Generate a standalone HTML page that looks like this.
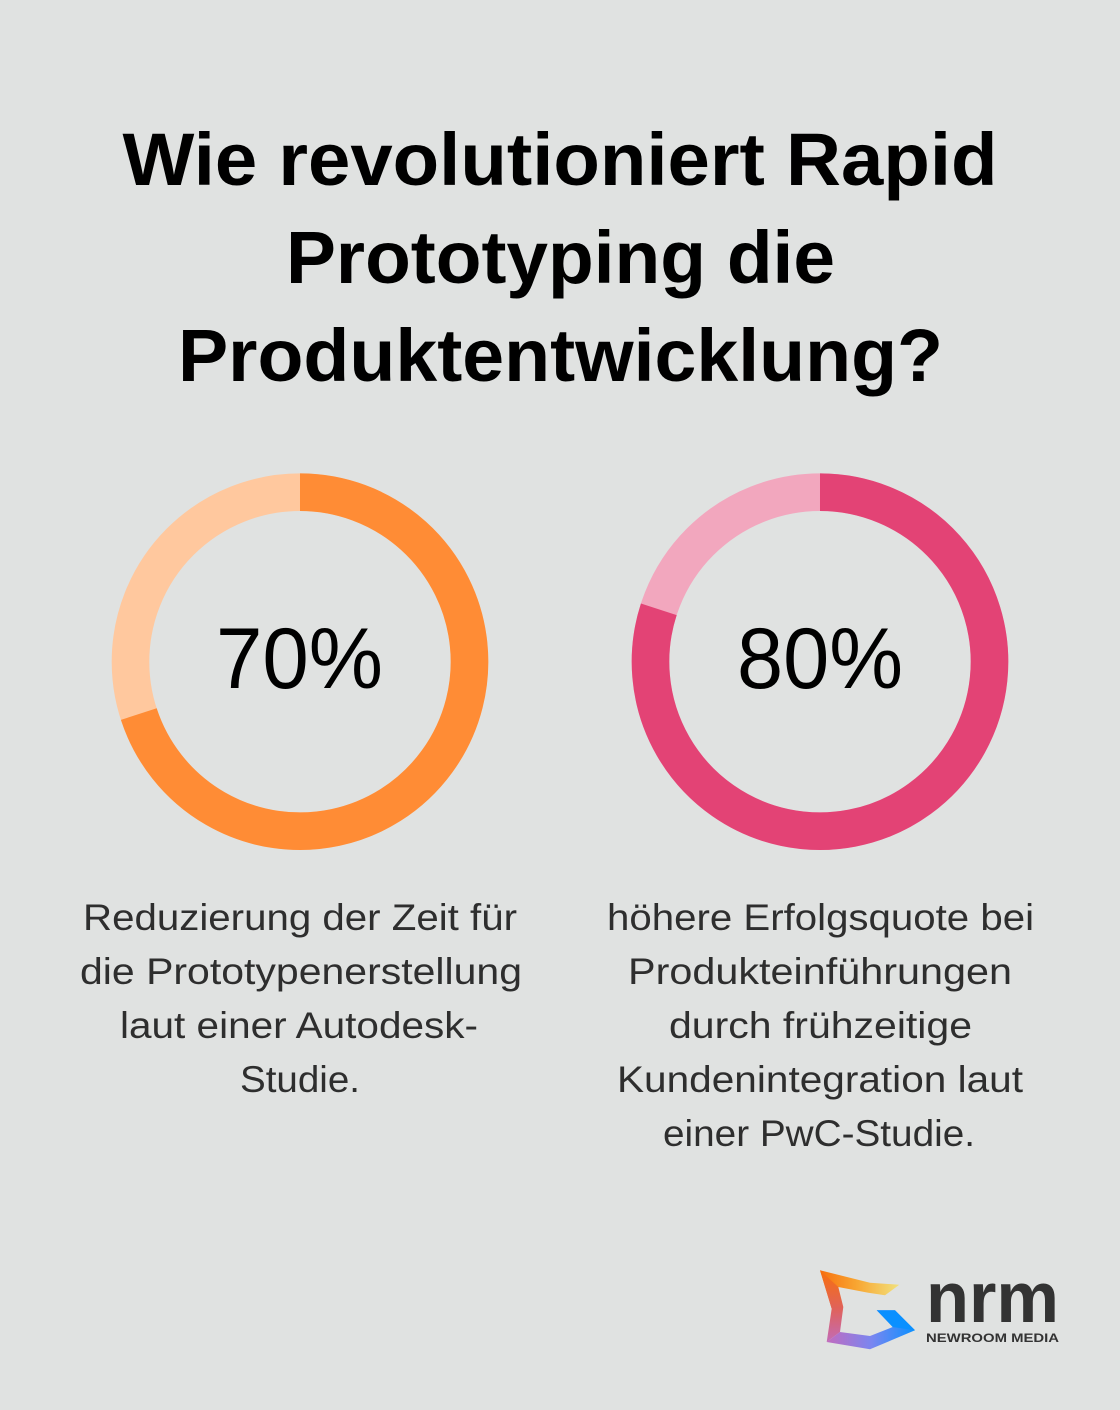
<!DOCTYPE html>
<html>
<head>
<meta charset="utf-8">
<style>
html,body{margin:0;padding:0;background:#e0e2e1;}
svg{display:block;}
.t{font-family:"Liberation Sans",sans-serif;font-weight:700;font-size:74px;fill:#000;}
.p{font-family:"Liberation Sans",sans-serif;font-weight:400;font-size:86px;fill:#000;}
.b{font-family:"Liberation Sans",sans-serif;font-weight:400;font-size:37px;fill:#2e2e2e;}
</style>
</head>
<body>
<svg width="1120" height="1410" viewBox="0 0 1120 1410" xmlns="http://www.w3.org/2000/svg">
<defs>
  <linearGradient id="gTop" x1="820" y1="0" x2="900" y2="0" gradientUnits="userSpaceOnUse">
    <stop offset="0" stop-color="#f7700f"/>
    <stop offset="0.45" stop-color="#f8a531"/>
    <stop offset="1" stop-color="#f1e27e"/>
  </linearGradient>
  <linearGradient id="gLeft" x1="0" y1="1272" x2="0" y2="1345" gradientUnits="userSpaceOnUse">
    <stop offset="0" stop-color="#f7700f"/>
    <stop offset="0.5" stop-color="#e0625a"/>
    <stop offset="1" stop-color="#c06cc0"/>
  </linearGradient>
  <linearGradient id="gBot" x1="828" y1="0" x2="915" y2="0" gradientUnits="userSpaceOnUse">
    <stop offset="0" stop-color="#c06cc0"/>
    <stop offset="0.5" stop-color="#7a86f0"/>
    <stop offset="1" stop-color="#0a90ff"/>
  </linearGradient>
</defs>
<rect width="1120" height="1410" fill="#e0e2e1"/>

<!-- Title -->
<text class="t" x="560" y="185" text-anchor="middle" textLength="875" lengthAdjust="spacingAndGlyphs">Wie revolutioniert Rapid</text>
<text class="t" x="560.5" y="283" text-anchor="middle" textLength="549" lengthAdjust="spacingAndGlyphs">Prototyping die</text>
<text class="t" x="560.5" y="381" text-anchor="middle" textLength="765" lengthAdjust="spacingAndGlyphs">Produktentwicklung?</text>

<!-- Donut 1 -->
<circle cx="300" cy="661.7" r="169.5" fill="none" stroke="#ffc89e" stroke-width="37.6"/>
<path d="M300 492.2 A169.5 169.5 0 1 1 138.8 714.1" fill="none" stroke="#ff8c35" stroke-width="37.6"/>
<text class="p" x="299.5" y="688" text-anchor="middle" textLength="167" lengthAdjust="spacingAndGlyphs">70%</text>

<!-- Donut 2 -->
<circle cx="820" cy="661.7" r="169.5" fill="none" stroke="#f2a7be" stroke-width="37.6"/>
<path d="M820 492.2 A169.5 169.5 0 1 1 658.8 609.3" fill="none" stroke="#e34375" stroke-width="37.6"/>
<text class="p" x="820" y="688" text-anchor="middle" textLength="166" lengthAdjust="spacingAndGlyphs">80%</text>

<!-- Left text -->
<text class="b" x="300" y="930" text-anchor="middle" textLength="434" lengthAdjust="spacingAndGlyphs">Reduzierung der Zeit für</text>
<text class="b" x="301" y="984" text-anchor="middle" textLength="442" lengthAdjust="spacingAndGlyphs">die Prototypenerstellung</text>
<text class="b" x="299" y="1038" text-anchor="middle" textLength="358" lengthAdjust="spacingAndGlyphs">laut einer Autodesk-</text>
<text class="b" x="300" y="1092" text-anchor="middle" textLength="120" lengthAdjust="spacingAndGlyphs">Studie.</text>

<!-- Right text -->
<text class="b" x="820.5" y="930" text-anchor="middle" textLength="427" lengthAdjust="spacingAndGlyphs">höhere Erfolgsquote bei</text>
<text class="b" x="820" y="984" text-anchor="middle" textLength="384" lengthAdjust="spacingAndGlyphs">Produkteinführungen</text>
<text class="b" x="820.5" y="1038" text-anchor="middle" textLength="303" lengthAdjust="spacingAndGlyphs">durch frühzeitige</text>
<text class="b" x="820" y="1092" text-anchor="middle" textLength="406" lengthAdjust="spacingAndGlyphs">Kundenintegration laut</text>
<text class="b" x="819" y="1146" text-anchor="middle" textLength="312" lengthAdjust="spacingAndGlyphs">einer PwC-Studie.</text>

<!-- Logo -->
<polygon points="820,1270.3 870,1282.7 899.3,1284.7 885,1295.3 868.3,1292.7 838.3,1287 831.7,1308.7 820,1270.3" fill="url(#gTop)"/>
<polygon points="820,1270.3 838.3,1287 843.3,1307 840,1332 826.7,1342 831.7,1308.7" fill="url(#gLeft)"/>
<polygon points="840,1332 870,1336 892.7,1327 876.7,1310.3 895,1310.3 915,1330.3 870,1349.3 826.7,1342" fill="url(#gBot)"/>
<polygon points="876.7,1310.3 895,1310.3 915,1330.3 892.7,1327" fill="#0a90ff"/>
<text x="926" y="1322" font-family="Liberation Sans, sans-serif" font-weight="700" font-size="71" fill="#333333" textLength="133" lengthAdjust="spacingAndGlyphs">nrm</text>
<text x="926" y="1342" font-family="Liberation Sans, sans-serif" font-weight="700" font-size="12" fill="#333333" textLength="133" lengthAdjust="spacingAndGlyphs">NEWROOM MEDIA</text>
</svg>
</body>
</html>
